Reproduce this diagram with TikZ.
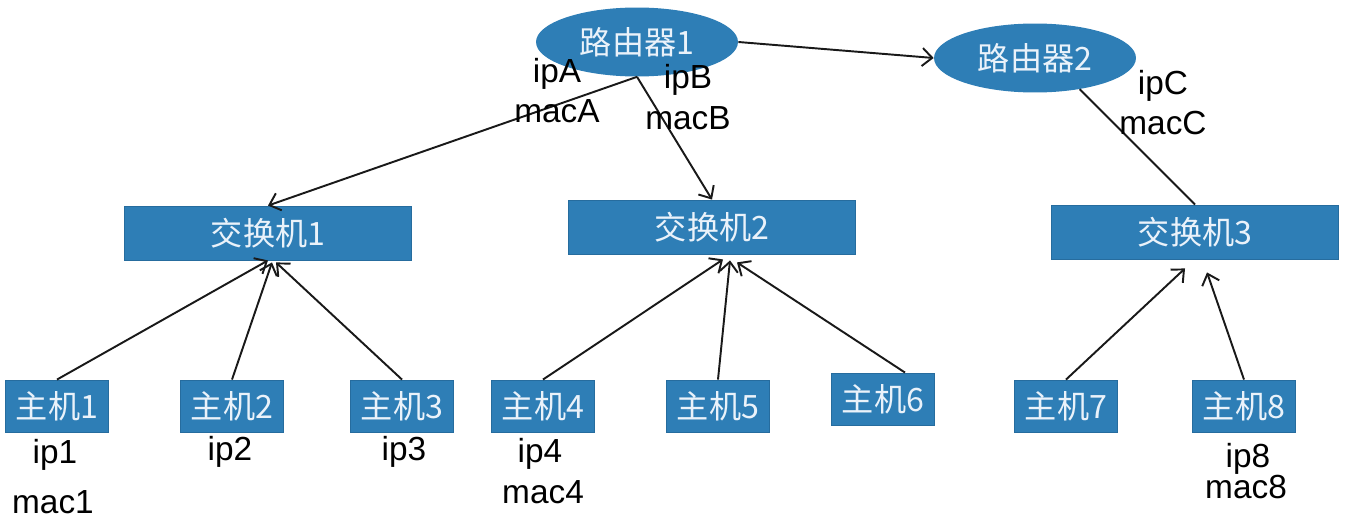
\documentclass[tikz,border=0pt]{standalone}
\usepackage{fontspec}
\setmainfont{Liberation Sans}
\newfontfamily\cjk{Noto Sans CJK SC}
\usetikzlibrary{calc,shapes.geometric,arrows.meta}
\definecolor{netblue}{RGB}{46,126,182}
\definecolor{netedge}{RGB}{38,108,158}
\definecolor{nettext}{RGB}{234,242,250}
\tikzset{
	router/.style={ellipse, fill=netblue, minimum width=4.04cm, minimum height=1.38cm, inner sep=0pt, text=nettext, font=\cjk\fontsize{18.3}{20}\selectfont},
	switchbox/.style={rectangle, fill=netblue, draw=netedge, line width=0.5pt, minimum width=5.74cm, minimum height=1.08cm, inner sep=0pt, text=nettext, font=\cjk\fontsize{18.3}{20}\selectfont},
	hostbox/.style={switchbox, minimum width=2.06cm, minimum height=1.04cm},
	addr/.style={anchor=base, inner sep=0pt, font=\fontsize{19}{21}\selectfont},
	link/.style={line width=1.1pt, color=black!90},
}

\begin{document}
\begin{tikzpicture}[x=0.02cm, y=-0.02cm, >={Straight Barb[length=2mm, width=3.6mm]}]
			%%%%% START %%%%%
			\useasboundingbox (0, 0) rectangle (1345, 520);
			
			\node[router] (r1) at (637, 42) {路由器1};
			\node[router] (r2) at (1035, 58) {路由器2};
			
			\node[switchbox] (s1) at (268, 233) {交换机1};
			\node[switchbox] (s2) at (712, 227) {交换机2};
			\node[switchbox] (s3) at (1195, 232) {交换机3};
			
			\node[hostbox] (h1) at (57, 406) {主机1};
			\node[hostbox] (h2) at (232, 406) {主机2};
			\node[hostbox] (h3) at (402, 406) {主机3};
			\node[hostbox] (h4) at (543, 406) {主机4};
			\node[hostbox] (h5) at (718, 406) {主机5};
			\node[hostbox] (h6) at (883, 399) {主机6};
			\node[hostbox] (h7) at (1066, 406) {主机7};
			\node[hostbox] (h8) at (1244, 406) {主机8};
			
			\draw[link, ->] (r1.east) -- (r2.west);
			\draw[link, ->] (r1.south) -- (s1.north);
			\draw[link, ->] (r1.south) -- (s2.north);
			\draw[link] (r2.-35) -- (s3.north);
			
			\draw[link, ->] (h1.north) -- (s1.south);
			\draw[link, ->] (h2.north) -- ([xshift=0.08cm, yshift=-0.04cm]s1.south);
			\draw[link, ->] (h3.north) -- ([xshift=0.16cm, yshift=-0.04cm]s1.south);
			
			\draw[link, ->] (h4.north) -- ([xshift=0.22cm, yshift=-0.1cm]s2.south);
			\draw[link, ->] (h5.north) -- ([xshift=0.36cm, yshift=-0.12cm]s2.south);
			\draw[link, ->] ([xshift=0.44cm]h6.north) -- ([xshift=0.5cm, yshift=-0.16cm]s2.south);
			
			\draw[link, ->] (h7.north) -- ([xshift=-0.2cm, yshift=-0.18cm]s3.south);
			\draw[link, ->] (h8.north) -- ([xshift=0.24cm, yshift=-0.26cm]s3.south);
			
			\node[addr] (ipA) at (557, 83) {ipA};
			\node[addr] (macA) at (557, 123) {macA};
			\node[addr] (ipB) at (688, 89) {ipB};
			\node[addr] (macB) at (688, 130) {macB};
			\node[addr] (ipC) at (1163, 95) {ipC};
			\node[addr] (macC) at (1163, 135) {macC};
			
			\node[addr] (ip1) at (55, 463) {ip1};
			\node[addr] (mac1) at (53, 513) {mac1};
			\node[addr] (ip2) at (230, 460) {ip2};
			\node[addr] (ip3) at (404, 460) {ip3};
			\node[addr] (ip4) at (540, 462) {ip4};
			\node[addr] (mac4) at (543, 503) {mac4};
			\node[addr] (ip8) at (1248, 467) {ip8};
			\node[addr] (mac8) at (1246, 498) {mac8};
			%%%%% END %%%%%
		\end{tikzpicture}
\end{document}
